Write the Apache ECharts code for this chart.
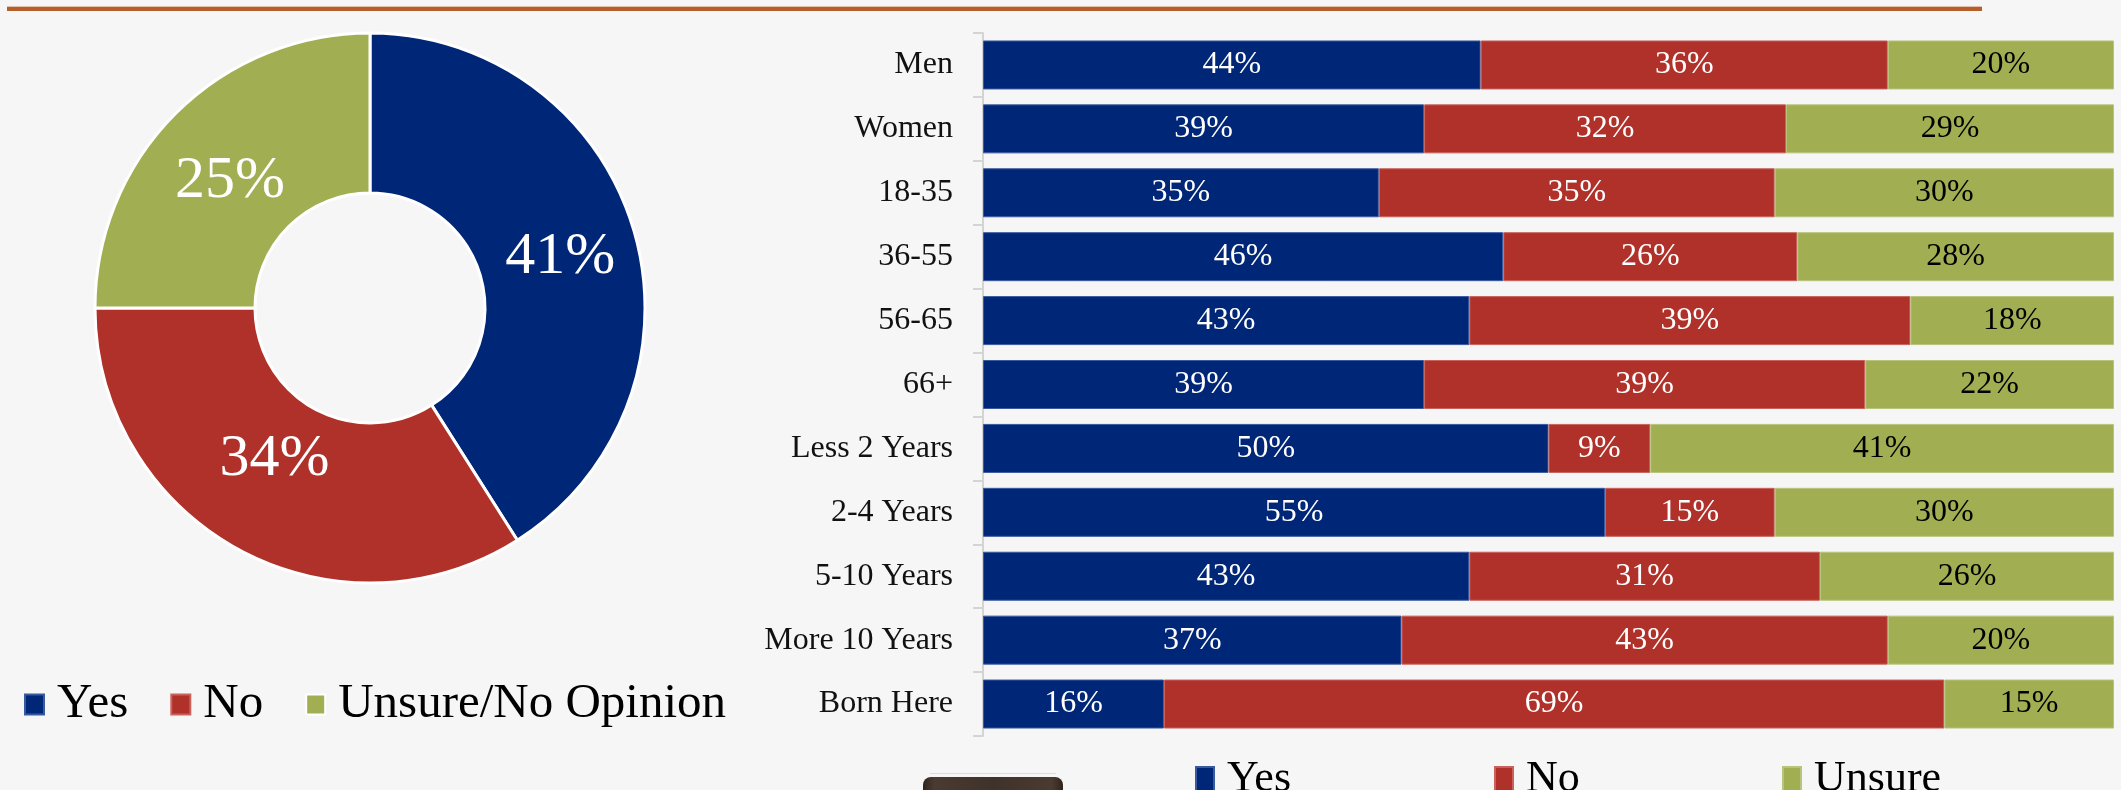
<!DOCTYPE html>
<html>
<head>
<meta charset="utf-8">
<style>
html,body{margin:0;padding:0;background:#f6f6f6;}
#chart{width:2121px;height:790px;}
</style>
<script src="https://cdn.jsdelivr.net/npm/echarts@6/dist/echarts.min.js"></script>
</head>
<body>
<div id="chart"></div>
<script>
// ---- data ----
const pieNames = ['Yes', 'No', 'Unsure/No Opinion'];
const pieValues = [41, 34, 25];

const categories = ['Men', 'Women', '18-35', '36-55', '56-65', '66+', 'Less 2 Years', '2-4 Years', '5-10 Years', 'More 10 Years', 'Born Here'];
const yesValues = [44, 39, 35, 46, 43, 39, 50, 55, 43, 37, 16];
const noValues = [36, 32, 35, 26, 39, 39, 9, 15, 31, 43, 69];
const unsureValues = [20, 29, 30, 28, 18, 22, 41, 30, 26, 20, 15];
const barSeriesNames = ['Yes', 'No', 'Unsure'];

// ---- styles ----
const BLUE = '#002677', RED = '#b0312a', GREEN = '#a1ae52';
const FONT = '"Liberation Serif", "DejaVu Serif", serif';

const chart = echarts.init(document.getElementById('chart'));

function barSeries(name, values, color, labelColor, border) {
  return {
    type: 'bar', name: name, stack: 'total', data: values,
    barWidth: 49,
    itemStyle: { color: color, borderColor: border, borderWidth: 1 },
    label: { show: true, position: 'inside', formatter: '{c}%', color: labelColor, fontFamily: FONT, fontSize: 32 },
    emphasis: { disabled: true }
  };
}

const pieColors = [BLUE, RED, GREEN];
// per-slice label nudges (blank line above/below shifts the text vertically)
const pieLabelStyles = [
  { formatter: '\u00a0\n{c}%', lineHeight: 8 },
  { formatter: '{c}%\n\u00a0', lineHeight: 44 },
  { formatter: '\u00a0\n{c}%', lineHeight: 26 }
];
const pieData = pieNames.map((n, i) => ({
  name: n, value: pieValues[i], itemStyle: { color: pieColors[i] }, label: pieLabelStyles[i]
}));

function bottomLegend(name, left) {
  return {
    data: [name], left: left, top: 752, orient: 'horizontal',
    icon: 'rect', itemWidth: 18, itemHeight: 24,
    selectedMode: false,
    textStyle: { fontFamily: FONT, fontSize: 44, color: '#000', padding: [0, 0, 0, 8] }
  };
}

chart.setOption({
  backgroundColor: '#f6f6f6',
  animation: false,
  color: [BLUE, RED, GREEN],
  graphic: [
    { type: 'rect', shape: { x: 7, y: 6, width: 1975, height: 1 }, style: { fill: '#e2c2aa' } },
    { type: 'rect', shape: { x: 7, y: 7, width: 1975, height: 4 }, style: { fill: '#b65f2c' } },
    { type: 'rect', shape: { x: 930, y: 773, width: 126, height: 1 }, style: { fill: '#dcdcdc' } },
    { type: 'rect', shape: { x: 923, y: 777, width: 140, height: 20, r: 8 },
      style: { fill: new echarts.graphic.LinearGradient(0, 0, 1, 0, [
        { offset: 0, color: '#2e241d' }, { offset: 0.08, color: '#4a3b31' },
        { offset: 0.5, color: '#3f322a' }, { offset: 0.92, color: '#4a3b31' }, { offset: 1, color: '#2e241d' }]) } }
  ],
  legend: [
    {
      data: pieNames, left: 19, top: 675, orient: 'horizontal',
      icon: 'rect', itemWidth: 19, itemHeight: 20, itemGap: 42,
      selectedMode: false,
      textStyle: { fontFamily: FONT, fontSize: 49, color: '#000', padding: [0, 0, 0, 8] }
    },
    bottomLegend('Yes', 1190),
    bottomLegend('No', 1489),
    bottomLegend('Unsure', 1777)
  ],
  grid: { left: 983, right: 7, top: 33, bottom: 54 },
  xAxis: { type: 'value', min: 0, max: 100, show: false },
  yAxis: {
    type: 'category', data: categories, inverse: true,
    axisLine: { show: true, lineStyle: { color: '#d4d4d4', width: 2 } },
    axisTick: { show: true, length: 10, lineStyle: { color: '#d4d4d4', width: 2 } },
    axisLabel: { fontFamily: FONT, fontSize: 32, color: '#111', margin: 30 },
    splitLine: { show: false }
  },
  series: [
    {
      type: 'pie', name: 'overall',
      center: [370, 308], radius: [115, 275],
      startAngle: 90, clockwise: true,
      data: pieData,
      itemStyle: { borderColor: '#ffffff', borderWidth: 3 },
      label: { show: true, position: 'inside', formatter: '{c}%', color: '#fff', fontFamily: FONT, fontSize: 60 },
      labelLine: { show: false },
      emphasis: { disabled: true }
    },
    barSeries(barSeriesNames[0], yesValues, BLUE, '#fff', '#3a5aa0'),
    barSeries(barSeriesNames[1], noValues, RED, '#fff', '#c8625c'),
    barSeries(barSeriesNames[2], unsureValues, GREEN, '#000', '#b8c47c')
  ]
});
</script>
</body>
</html>
